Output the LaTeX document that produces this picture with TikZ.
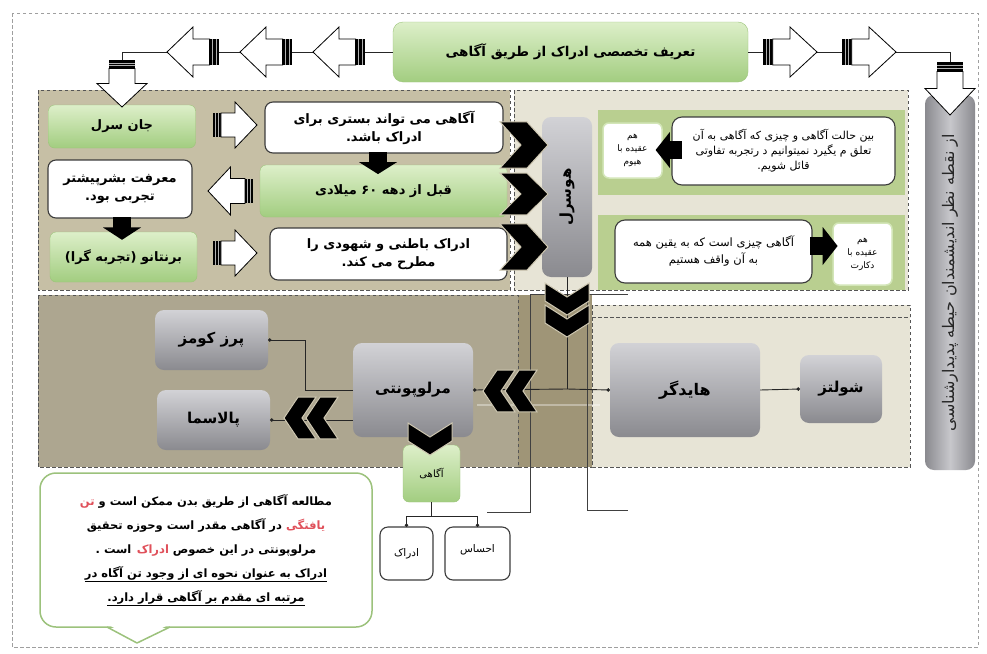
\documentclass[tikz,border=0pt]{standalone}
\usepackage{fontspec}
\usepackage{graphicx}
\usetikzlibrary{arrows.meta,calc}
\TeXXeTstate=1
\newfontfamily\fa[Script=Arabic]{DejaVu Sans}
\newcommand\fatext[1]{\beginR#1\endR}
\definecolor{dashc}{HTML}{555555}
\definecolor{tanA}{HTML}{C6BFA5}
\definecolor{tanB}{HTML}{ADA690}
\definecolor{oliveS}{HTML}{9F9577}
\definecolor{beigeR}{HTML}{E7E4D6}
\definecolor{bandG}{HTML}{B9CF90}
\definecolor{greenT}{HTML}{DDEFC9}
\definecolor{greenB}{HTML}{A2CD80}
\definecolor{greenE}{HTML}{9CC47A}
\definecolor{grayT}{HTML}{D2D2D6}
\definecolor{grayB}{HTML}{8A8A8F}
\definecolor{boxE}{HTML}{3C3C3C}
\definecolor{sboxE}{HTML}{D3E6B8}
\definecolor{chevE}{HTML}{CFC8B2}
\definecolor{noteE}{HTML}{9CC27C}
\definecolor{fared}{HTML}{E0505A}
\tikzset{
  panel/.style={draw=dashc, dash pattern=on 3.5pt off 2.5pt, line width=1pt},
  gbox/.style={rounded corners=6pt, top color=greenT, bottom color=greenB, draw=greenE, line width=0.4pt,
    font=\fa\bfseries\fontsize{13}{16}\selectfont, align=center, inner sep=2pt, outer sep=0pt},
  wbox/.style={rounded corners=8pt, fill=white, draw=boxE, line width=1.1pt,
    font=\fa\bfseries\fontsize{13}{18}\selectfont, align=center, inner sep=2pt, outer sep=0pt},
  graybox/.style={rounded corners=9pt, top color=grayT, bottom color=grayB, draw=none,
    font=\fa\bfseries\fontsize{15}{17}\selectfont, align=center, inner sep=2pt, outer sep=0pt},
  sbox/.style={rounded corners=6pt, fill=white, draw=sboxE, line width=1.5pt,
    font=\fa\fontsize{9}{13}\selectfont, align=center, inner sep=1pt, outer sep=0pt},
  conn/.style={draw=black!85, line width=0.9pt},
  dotc/.style={conn, -{Circle[length=3.5pt]}},
  wblk/.pic={
    \fill[black] (0,-13) rectangle (9,13);
    \draw[gray!60, line width=0.6pt] (3,-13)--(3,13) (6,-13)--(6,13);
    \draw[fill=white, line width=0.8pt, line join=miter] (9,-13) -- (25,-13) -- (25,-25) -- (50,0) -- (25,25) -- (25,13) -- (9,13) -- cycle;
  },
  barr/.pic={
    \fill[black] (0,-9) rectangle (12,9);
    \fill[black] (11,-19) -- (24,0) -- (11,19) -- cycle;
  },
  chev/.pic={
    \fill[black, draw=chevE, line width=1pt] (0,-22) -- (18,-22) -- (32,0) -- (18,22) -- (0,22) -- (14,0) -- cycle;
  },
}
\begin{document}
\begin{tikzpicture}[x=1pt,y=-1pt]
\useasboundingbox (0,0) rectangle (987,653);
\fill[white] (0,0) rectangle (987,653);
% outer frame
\draw[panel, draw=gray!75] (12,13) rectangle (978,647);
% top panels
\fill[tanA] (38,90) rectangle (510,290);
\draw[panel] (38,90) rectangle (510,290);
\fill[beigeR] (514,90) rectangle (908,290);
\fill[bandG] (598,110) rectangle (905,195);
\fill[bandG] (598,215) rectangle (905,290);
\draw[panel] (514,90) rectangle (908,290);
% bottom panels
\fill[tanB] (38,295) rectangle (518,467);
\fill[oliveS] (518,295) rectangle (592,467);
\fill[beigeR] (592,305) rectangle (910,467);
\draw[panel] (38,295) rectangle (518,467);
\draw[panel] (592,305) rectangle (910,467);
\draw[panel] (592,317) -- (910,317);
\draw[panel] (518,467) -- (592,467);
\draw[white, opacity=0.35, line width=1.5pt] (477,405) -- (600,405);
% bracket lines
\draw[conn, draw=black!75] (487,512) -- (530,512) -- (530,294) -- (628,294);
\draw[conn, draw=black!75] (587,294) -- (587,510) -- (628,510);

% ---------- nodes
\node[gbox, rounded corners=10pt, minimum width=355, minimum height=60, font=\fa\bfseries\fontsize{13.5}{16}\selectfont] (banner) at (570.5,52) {\fatext{تعریف تخصصی ادراک از طریق آگاهی}};
\node[rounded corners=9pt, left color=grayB, right color=grayB, middle color=grayT!85!grayB, minimum width=50, minimum height=375, inner sep=0pt] (sidebar) at (950,282.5) {\rotatebox{90}{\fa\fontsize{16}{18}\selectfont\color{black!85}\fatext{از نقطه نظر اندیشمندان حیطه پدیدارشناسی}}};

\node[gbox, minimum width=147, minimum height=43] (sarl) at (122,126.5) {\fatext{جان سرل}};
\node[wbox, minimum width=238, minimum height=51] (b1) at (384,127.5) {\fatext{آگاهی می تواند بستری برای}\\\fatext{ادراک باشد.}};
\node[gbox, minimum width=247, minimum height=52] (g2) at (383.5,191) {\fatext{قبل از دهه ۶۰ میلادی}};
\node[wbox, minimum width=144, minimum height=58] (b2) at (120,189) {\fatext{معرفت بشرپیشتر}\\\fatext{تجربی بود.}};
\node[gbox, minimum width=147, minimum height=50] (brentano) at (123.5,257) {\fatext{برنتانو (تجربه گرا)}};
\node[wbox, minimum width=237, minimum height=52] (b3) at (388.5,254) {\fatext{ادراک باطنی و شهودی را}\\\fatext{مطرح می کند.}};

\node[graybox, minimum width=50, minimum height=160] (husserl) at (567,197) {\rotatebox{90}{\fatext{هوسرل}}};

\node[sbox, minimum width=59, minimum height=55] (hume) at (632.5,150.5) {\fatext{هم}\\\fatext{عقیده با}\\\fatext{هیوم}};
\node[wbox, rounded corners=10pt, minimum width=223, minimum height=68, font=\fa\fontsize{11}{15}\selectfont] (t1) at (783.5,151) {\fatext{بین حالت آگاهی و چیزی که آگاهی به آن}\\\fatext{تعلق م یگیرد نمیتوانیم د رتجربه تفاوتی}\\\fatext{قائل شویم.}};
\node[wbox, rounded corners=10pt, minimum width=197, minimum height=63, font=\fa\fontsize{11.5}{17}\selectfont] (t2) at (713.5,251.5) {\fatext{آگاهی چیزی است که به یقین همه}\\\fatext{به آن واقف هستیم}};
\node[sbox, minimum width=59, minimum height=62] (descartes) at (862.5,254) {\fatext{هم}\\\fatext{عقیده با}\\\fatext{دکارت}};

\node[graybox, minimum width=113, minimum height=60] (perez) at (211.5,340) {\fatext{پرز کومز}};
\node[graybox, minimum width=113, minimum height=60] (pallasma) at (213.5,420) {\fatext{پالاسما}};
\node[graybox, minimum width=120, minimum height=94] (merleau) at (413,390) {\fatext{مرلوپونتی}};
\node[graybox, minimum width=150, minimum height=94, font=\fa\bfseries\fontsize{16}{18}\selectfont] (heidegger) at (685,390) {\fatext{هایدگر}};
\node[graybox, minimum width=82, minimum height=68] (schutz) at (841,389) {\fatext{شولتز}};

\node[gbox, minimum width=57, minimum height=57, font=\fa\fontsize{10}{12}\selectfont] (agahi) at (431.5,473.5) {\fatext{آگاهی}};
\node[wbox, minimum width=53, minimum height=53, font=\fa\fontsize{10.5}{12}\selectfont] (edrak) at (406.5,553.5) {\fatext{ادراک}};
\node[wbox, minimum width=65, minimum height=53, font=\fa\fontsize{10.5}{12}\selectfont] (ehsas) at (477.5,553.5) {\raisebox{9pt}{\fatext{احساس}}};

% callout
\node[rounded corners=16pt, fill=white, draw=noteE, line width=1.5pt, minimum width=332, minimum height=154,
  align=center, font=\fa\bfseries\fontsize{11.5}{24}\selectfont, inner sep=0pt] (note) at (206,550)
  {{\color{fared}\fatext{تن}} \fatext{مطالعه آگاهی از طریق بدن ممکن است و}\\
   \fatext{در آگاهی مقدر است وحوزه تحقیق} {\color{fared}\fatext{یافتگی}}\\
   \fatext{است .} {\color{fared}\fatext{ادراک}} \fatext{مرلوپونتی در این خصوص}\\
   \underline{\fatext{ادراک به عنوان نحوه ای از وجود تن آگاه در}}\\
   \underline{\fatext{مرتبه ای مقدم بر آگاهی قرار دارد.}}};
\fill[white] (109,625) -- (137,641) -- (168,625) -- cycle;
\draw[noteE, line width=1.5pt, line join=round] (107,627) -- (137,643) -- (170,627);

% ---------- connectors
\draw[conn] (banner.west) -| (sarl.north);
\draw[conn] (banner.east) -| (sidebar.north);
\coordinate (j1) at (567,389);
\draw[conn] (husserl.south) -- (j1);
\draw[dotc] (j1) -- (heidegger.west);
\draw[dotc] (j1) -- (merleau.east);
\draw[dotc] (heidegger.east) -- (schutz.west);
\draw[dotc] (merleau.west) -- ++(-48,0) |- (perez.east);
\draw[dotc] (pallasma.east -| merleau.west) -- (pallasma.east);
\draw[conn] (agahi.north |- merleau.south) -- (agahi.north);
\draw[dotc] (agahi.south) -- ++(0,14) -| (edrak.north);
\draw[dotc] (agahi.south) -- ++(0,14) -| (ehsas.north);

% ---------- block arrows
\pic[rotate=180, xscale=1.04] at (365,52) {wblk};
\pic[rotate=180, xscale=1.04] at (292,52) {wblk};
\pic[rotate=180, xscale=1.04] at (219,52) {wblk};
\pic[xscale=1.08] at (763,52) {wblk};
\pic[xscale=1.08] at (842,52) {wblk};
\pic[rotate=-90, xscale=0.94] at (122,60) {wblk};
\pic[rotate=-90, xscale=1.06] at (950,62) {wblk};
\pic[xscale=0.88, yscale=0.92] at (213,125) {wblk};
\pic[rotate=180, xscale=0.9, yscale=0.96] at (253,191) {wblk};
\pic[xscale=0.88, yscale=0.92] at (213,253) {wblk};
\pic[rotate=-90, xscale=0.92] at (378,152) {barr};
\pic[rotate=-90, xscale=0.95] at (122,217) {barr};
\pic[rotate=180, xscale=1.1, yscale=0.95] at (682,150) {barr};
\pic[xscale=1.15] at (810,246) {barr};
% chevrons
\pic[xscale=1.5, yscale=1.05] at (500,145) {chev};
\pic[xscale=1.5, yscale=0.95] at (500,194) {chev};
\pic[xscale=1.5, yscale=1.05] at (500,247) {chev};
\pic[rotate=-90] at (567,283) {chev};
\pic[rotate=-90] at (567,305) {chev};
\pic[rotate=180, yscale=0.95] at (537,391) {chev};
\pic[rotate=180, yscale=0.95] at (515,391) {chev};
\pic[rotate=180, yscale=0.95] at (338,418) {chev};
\pic[rotate=180, yscale=0.95] at (316,418) {chev};
\pic[rotate=-90] at (430,423) {chev};
\end{tikzpicture}
\end{document}
